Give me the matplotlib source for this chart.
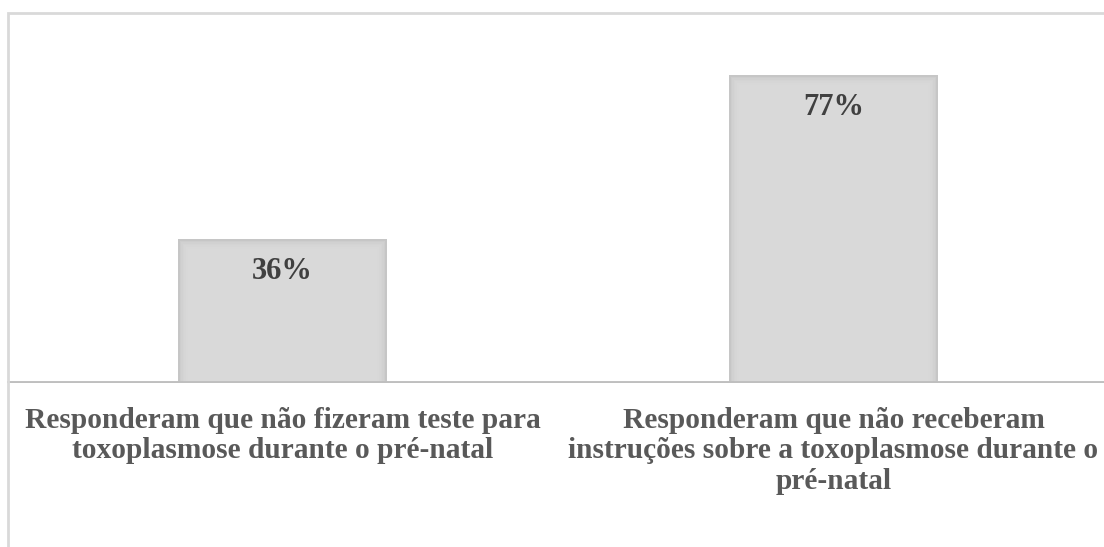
import matplotlib
matplotlib.use("Agg")
import matplotlib.pyplot as plt
from matplotlib.patches import Rectangle

categories = [
    "Responderam que não fizeram teste para\ntoxoplasmose durante o pré-natal",
    "Responderam que não receberam\ninstruções sobre a toxoplasmose durante o\npré-natal",
]
values = [0.36, 0.77]
value_labels = ["36%", "77%"]

W, H = 1104, 547
fig = plt.figure(figsize=(W / 100, H / 100), dpi=100)
fig.patch.set_facecolor("white")

# outer chart border
fig.patches.append(Rectangle((7.5 / W, -0.1), 1.2, 1 - 12.5 / H + 0.1, transform=fig.transFigure,
                             fill=False, edgecolor="#d9d9d9", linewidth=2.0))

base_y = 383
top_y = 23
ax = fig.add_axes([7 / W, 1 - base_y / H, 1102 / W, (base_y - top_y) / H])
ax.set_xlim(-0.5, 1.5)
ax.set_ylim(0, 0.9)
ax.axis("off")

px_x = 1 / 551.0   # data units per pixel in x
px_y = 0.9 / 360.0  # data units per pixel in y
x = list(range(len(values)))
bar_w = 209 * px_x

# soft inner shadow imitation: nested bars from darker edge to lighter centre
shades = ["#c6c6c6", "#cdcdcd", "#d1d1d1", "#d4d4d4", "#d6d6d6", "#d8d8d8", "#d9d9d9"]
for i, c in enumerate(shades):
    inset = i * 1.6
    ax.bar(x, [v - inset * px_y for v in values], width=bar_w - 2 * inset * px_x,
           color=c, edgecolor="none", zorder=2 + i * 0.01)

ax.axhline(0, color="#bfbfbf", linewidth=2.8, zorder=4)

serif = ["Liberation Serif", "DejaVu Serif"]
for xi, v, lab in zip(x, values, value_labels):
    ax.text(xi, v - 18 * px_y, lab, ha="center", va="top", fontsize=22, fontweight="bold",
            family=serif, color="#404040", zorder=5)

for xi, cat in zip(x, categories):
    ax.text(xi, -24 * px_y, cat, ha="center", va="top", fontsize=21.2, fontweight="bold",
            family=serif, color="#595959", linespacing=1.16)

fig.savefig("out.png", dpi=100)
